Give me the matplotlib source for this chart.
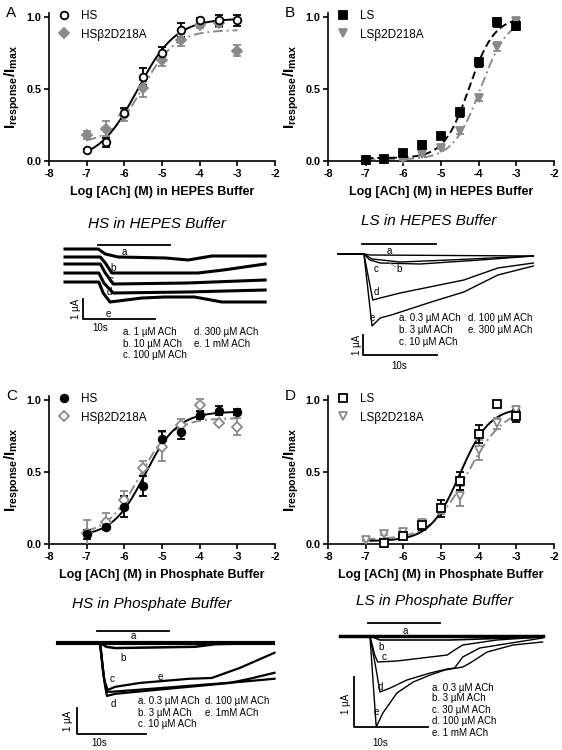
import numpy as np
import matplotlib
matplotlib.use('Agg')
import matplotlib.pyplot as plt

plt.rcParams['font.family'] = ['Liberation Sans', 'DejaVu Sans']
plt.rcParams['mathtext.fontset'] = 'custom'
plt.rcParams['mathtext.rm'] = 'Liberation Sans'
plt.rcParams['mathtext.bf'] = 'Liberation Sans:bold'
plt.rcParams['axes.unicode_minus'] = False

# ---- concentration-response data (log M) ----
conc = [-7, -6.5, -6, -5.5, -5, -4.5, -4, -3.5, -3]
conc_d_ls = [-6.5, -6, -5.5, -5, -4.5, -4, -3.5, -3]

# A: HEPES, HS
hs_hepes = [0.074, 0.13, 0.335, 0.586, 0.75, 0.91, 0.98, 0.977, 0.977]
hs_hepes_err = [0.01, 0.03, 0.03, 0.06, 0.04, 0.05, 0.01, 0.04, 0.04]
hsmut_hepes = [0.18, 0.225, 0.32, 0.505, 0.70, 0.84, 0.945, 0.96, 0.767]
hsmut_hepes_err = [0.03, 0.05, 0.04, 0.06, 0.04, 0.04, 0.02, 0.03, 0.04]
# B: HEPES, LS
ls_hepes = [0.005, 0.016, 0.056, 0.11, 0.172, 0.337, 0.686, 0.963, 0.94]
ls_hepes_err = [0.01, 0.01, 0.01, 0.03, 0.02, 0.03, 0.03, 0.03, 0.03]
lsmut_hepes = [0.005, 0.005, 0.016, 0.047, 0.09, 0.21, 0.44, 0.795, 0.97]
lsmut_hepes_err = [0.005, 0.005, 0.01, 0.01, 0.01, 0.02, 0.02, 0.03, 0.02]
# C: phosphate, HS
hs_phos = [0.067, 0.116, 0.26, 0.40, 0.727, 0.78, 0.896, 0.926, 0.919]
hs_phos_err = [0.03, 0.02, 0.07, 0.07, 0.06, 0.05, 0.03, 0.03, 0.02]
hsmut_phos = [0.074, 0.155, 0.305, 0.525, 0.676, 0.826, 0.965, 0.838, 0.815]
hsmut_phos_err = [0.09, 0.06, 0.06, 0.05, 0.10, 0.04, 0.04, 0.01, 0.06]
# D: phosphate, LS
ls_phos = [0.01, 0.055, 0.13, 0.248, 0.437, 0.764, 0.972, 0.889]
ls_phos_err = [0.01, 0.01, 0.03, 0.06, 0.06, 0.06, 0.01, 0.04]
lsmut_phos = [0.028, 0.07, 0.083, 0.145, 0.236, 0.333, 0.653, 0.838, 0.93]
lsmut_phos_err = [0.01, 0.01, 0.01, 0.02, 0.03, 0.07, 0.07, 0.04, 0.03]

# Hill fits: bottom, top, logEC50, slope
fit_hs_hepes = (0.0, 0.99, -5.65, 0.85)
fit_hsmut_hepes = (0.12, 0.91, -5.5, 1.0)
fit_ls_hepes = (0.02, 1.0, -4.25, 1.3)
fit_lsmut_hepes = (0.01, 1.0, -3.95, 1.2)
fit_hs_phos = (0.05, 0.92, -5.45, 1.0)
fit_hsmut_phos = (0.06, 0.875, -5.6, 1.0)
fit_ls_phos = (0.02, 0.95, -4.5, 1.1)
fit_lsmut_phos = (0.03, 0.95, -4.3, 0.9)

# ---- current traces (time s, current uA) ----
hsH_t = [[0, 4.6, 5.6, 7.4, 14, 17.1, 20.4, 27.8],
         [0, 4.9, 5.6, 6.5, 18.5, 22, 27.8],
         [0, 4.9, 5.6, 6.7, 17, 27.8],
         [0, 4.7, 5.4, 6.7, 17, 27.8],
         [0, 4.7, 5.3, 6.25, 10.7, 13.9, 18, 21.8, 27.8]]
hsH_i = [[0, 0, -0.25, -0.4, -0.45, -0.55, -0.35, -0.35],
         [-0.4, -0.4, -0.7, -1.2, -1.2, -1.05, -0.75],
         [-0.75, -0.75, -1.2, -1.75, -1.7, -1.55],
         [-1.2, -1.2, -1.7, -2.2, -2.15, -2.05],
         [-1.65, -1.65, -2.2, -2.65, -2.45, -2.4, -2.4, -2.65, -2.65]]
hsH_conc = ['a. 1 µM ACh', 'b. 10 µM ACh', 'c. 100 µM ACh', 'd. 300 µM ACh', 'e. 1 mM ACh']

lsH_t = [[0, 3.5, 4.3, 26.4],
         [0, 3.5, 4.6, 8.4, 15.1, 26.4],
         [0, 3.5, 4.3, 5.7, 11.1, 19.2, 26.4],
         [0, 3.5, 4.05, 4.7, 5.7, 8.4, 17.0, 21.6, 26.4],
         [0, 3.5, 4.6, 5.7, 7.2, 12.6, 17.0, 21.6, 26.4]]
lsH_i = [[0, 0, -0.05, -0.1],
         [0, 0, -0.25, -0.4, -0.3, -0.1],
         [0, 0, -0.3, -0.45, -0.5, -0.3, -0.1],
         [0, 0, -1.05, -2.3, -2.2, -1.95, -1.3, -0.7, -0.45],
         [0, 0, -3.6, -3.2, -3.05, -2.4, -1.9, -1.05, -0.6]]
lsH_conc = ['a. 0.3 µM ACh', 'b. 3 µM ACh', 'c. 10 µM ACh', 'd. 100 µM ACh', 'e. 300 µM ACh']

hsP_t = [[0, 31.2],
         [0, 6.1, 7.0, 8.3, 19.9, 22.8, 31.2],
         [0, 6.1, 6.5, 7.0, 7.8, 13.3, 20.6, 26.4, 31.4],
         [0, 6.1, 6.7, 7.1, 8.3, 14.1, 20.6, 24.9, 27.8, 31.4],
         [0, 6.1, 6.7, 7.2, 8.3, 11.9, 19.1, 22.3, 26.4, 31.4]]
hsP_i = [[0, 0],
         [0, 0, -0.15, -0.2, -0.15, -0.05, 0],
         [0, 0, -1.04, -1.88, -1.88, -1.77, -1.62, -1.5, -1.38],
         [0, 0, -1.42, -2.04, -1.96, -1.81, -1.65, -1.54, -1.38, -1.15],
         [0, 0, -1.42, -1.81, -1.69, -1.54, -1.38, -1.35, -0.96, -0.38]]
hsP_conc = ['a. 0.3 µM ACh', 'b. 3 µM ACh', 'c. 10 µM ACh', 'd. 100 µM ACh', 'e. 1mM ACh']

lsP_t = [[0, 27.4],
         [0, 4.05, 5.4, 14.9, 27.4],
         [0, 4.05, 4.7, 5.1, 7.7, 14.5, 15.5, 16.6, 21.2, 27.4],
         [0, 4.05, 4.9, 5.4, 6.8, 9.05, 12.2, 14.5, 15.5, 16.6, 18.9, 27.4],
         [0, 4.05, 4.9, 5.8, 7.7, 9.9, 12.2, 14.2, 16.6, 17.6, 19.9, 23.4, 27.4]]
lsP_i = [[0, 0],
         [0, 0, -0.08, -0.08, -0.02],
         [0, 0, -0.38, -0.52, -0.5, -0.38, -0.28, -0.18, -0.08, -0.02],
         [0, 0, -0.68, -1.12, -1.04, -0.88, -0.74, -0.66, -0.64, -0.42, -0.24, -0.04],
         [0, 0, -1.82, -1.54, -1.14, -0.92, -0.78, -0.68, -0.62, -0.54, -0.32, -0.18, -0.12]]
lsP_conc = ['a. 0.3 µM ACh', 'b. 3 µM ACh', 'c. 30 µM ACh', 'd. 100 µM ACh', 'e. 1 mM ACh']

GRAY = '#8a8a8a'
W, H = 562, 750
fig = plt.figure(figsize=(W / 100, H / 100), dpi=100)


def px_rect(x0, y0, x1, y1):
    return [x0 / W, 1 - y1 / H, (x1 - x0) / W, (y1 - y0) / H]


def hill(x, bottom, top, logec50, n):
    return bottom + (top - bottom) / (1 + 10 ** ((logec50 - x) * n))


def dose_panel(rect, letter, xlabel, series):
    ax = fig.add_axes(rect)
    xfit = np.linspace(-7, -3, 200)
    handles = []
    for x, y, e, fit, color, marker, filled, ls, label in series[::-1]:
        ax.plot(xfit, hill(xfit, *fit), color=color, ls=ls, lw=1.4, zorder=2)
        ax.errorbar(x, y, yerr=e, fmt='none', ecolor=color, elinewidth=1.3,
                    capsize=2.8, capthick=1.3, zorder=3)
        h, = ax.plot(x, y, ls='none', marker=marker, ms=5.5, mec=color, mew=1.3,
                     mfc=color if filled else 'white', label=label, zorder=4,
                     clip_on=False)
        handles.insert(0, h)
    ax.set_xlim(-8, -2)
    ax.set_ylim(0, 1.03)
    ax.set_xticks([-8, -7, -6, -5, -4, -3, -2])
    ax.set_yticks([0, 0.5, 1.0])
    ax.set_yticklabels(['0.0', '0.5', '1.0'])
    for s in ['top', 'right']:
        ax.spines[s].set_visible(False)
    for s in ['left', 'bottom']:
        ax.spines[s].set_linewidth(1.2)
    ax.tick_params(direction='out', length=3.5, width=1.2, labelsize=7.8, pad=2)
    for lab in ax.get_xticklabels() + ax.get_yticklabels():
        lab.set_fontweight('bold')
    ax.set_xlabel(xlabel, fontsize=9, fontweight='bold')
    ax.xaxis.set_label_coords(0.5, -0.17)
    ax.set_ylabel(r'$\mathbf{I_{response}/I_{max}}$', fontsize=11)
    ax.yaxis.set_label_coords(-0.12, 0.5)
    ax.legend(handles=handles, loc='upper left', bbox_to_anchor=(0.02, 1.05),
              frameon=False, fontsize=8.5, handlelength=1.0, handletextpad=0.9,
              labelspacing=0.55, borderaxespad=0)
    ax.text(-0.19, 0.995, letter, transform=ax.transAxes, fontsize=11,
            ha='left', va='center')
    return ax


def trace_panel(box, xlim, ylim, times, currs, lw, title, title_xy,
                letters, bar, scale, ua_xy, s_xy, conc_labels, conc_xy, fs=7):
    ax = fig.add_axes(px_rect(*box))
    ax.set_xlim(*xlim)
    ax.set_ylim(*ylim)
    ax.axis('off')
    for t, i, w in zip(times, currs, lw):
        ax.plot(t, i, color='black', lw=w, solid_joinstyle='round')
    ax.plot([bar[0], bar[1]], [bar[2], bar[2]], color='black', lw=1.3)
    for ch, (tx, ty) in zip('abcde', letters):
        ax.text(tx, ty, ch, fontsize=7, ha='center', va='center')
    sx, sy, dy = scale
    ax.plot([sx, sx, sx + 10], [sy + dy, sy, sy], color='black', lw=1.3)
    ax.text(ua_xy[0], ua_xy[1], '1 µA', rotation=90, fontsize=7,
            ha='center', va='center')
    ax.text(s_xy[0], s_xy[1], '10s', fontsize=7, ha='center', va='center')
    for txt, (tx, ty) in zip(conc_labels, conc_xy):
        ax.text(tx, ty, txt, fontsize=fs, ha='left', va='center')
    fig.text(title_xy[0] / W, 1 - title_xy[1] / H, title, fontsize=11,
             style='italic', ha='center', va='center')
    return ax


# ---- dose-response panels ----
dose_panel([49 / W, 1 - 161 / H, 226 / W, 148.3 / H], 'A',
           'Log [ACh] (M) in HEPES Buffer',
           [(conc, hs_hepes, hs_hepes_err, fit_hs_hepes, 'black', 'o', False, '-', 'HS'),
            (conc, hsmut_hepes, hsmut_hepes_err, fit_hsmut_hepes, GRAY, 'D', True,
             (0, (5, 2, 1, 2)), 'HSβ2D218A')])
dose_panel([328 / W, 1 - 161 / H, 226 / W, 148.3 / H], 'B',
           'Log [ACh] (M) in HEPES Buffer',
           [(conc, ls_hepes, ls_hepes_err, fit_ls_hepes, 'black', 's', True, (0, (4, 2)), 'LS'),
            (conc, lsmut_hepes, lsmut_hepes_err, fit_lsmut_hepes, GRAY, 'v', True,
             (0, (5, 2, 1, 2)), 'LSβ2D218A')])
dose_panel([49 / W, 1 - 544 / H, 226 / W, 148.3 / H], 'C',
           'Log [ACh] (M) in Phosphate Buffer',
           [(conc, hs_phos, hs_phos_err, fit_hs_phos, 'black', 'o', True, '-', 'HS'),
            (conc, hsmut_phos, hsmut_phos_err, fit_hsmut_phos, GRAY, 'D', False,
             (0, (5, 2, 1, 2)), 'HSβ2D218A')])
dose_panel([328 / W, 1 - 544 / H, 226 / W, 148.3 / H], 'D',
           'Log [ACh] (M) in Phosphate Buffer',
           [(conc_d_ls, ls_phos, ls_phos_err, fit_ls_phos, 'black', 's', False, '-', 'LS'),
            (conc, lsmut_phos, lsmut_phos_err, fit_lsmut_phos, GRAY, 'v', False,
             (0, (5, 2, 1, 2)), 'LSβ2D218A')])

# ---- trace panels ----
trace_panel((55, 236, 275, 362), (-1.39, 29.17), (-5.65, 0.65), hsH_t, hsH_i,
            [2.2] * 5, 'HS in HEPES Buffer', (157, 224),
            [(8.2, -0.15), (6.7, -0.95), (6.4, -1.55), (6.1, -2.15), (6.0, -3.25)],
            (4.6, 14.6, 0.2), (2.5, -3.5, 1.0), (1.5, -3.0), (4.9, -3.95),
            hsH_conc, [(8.05, -4.15), (8.05, -4.75), (8.05, -5.3), (17.9, -4.15), (17.9, -4.75)])

ax = trace_panel((330, 236, 545, 372), (-1.08, 27.97), (-5.9, 0.9), lsH_t, lsH_i,
                 [1.0] * 5, 'LS in HEPES Buffer', (429, 221),
                 [(6.9, 0.15), (8.25, -0.75), (5.15, -0.75), (5.15, -1.9), (4.7, -3.2)],
                 (3.24, 13.2, 0.5), (3.4, -5.05, 1.0), (2.55, -4.55), (8.25, -5.6),
                 lsH_conc, [(8.25, -3.2), (8.25, -3.8), (8.25, -4.4), (17.6, -3.2), (17.6, -3.8)])
ax.plot([7.8, 6.8], [-0.65, -0.4], color=GRAY, lw=0.6)

trace_panel((50, 620, 280, 750), (-1.16, 32.2), (-4.12, 0.88), hsP_t, hsP_i,
            [3.0, 1.8, 1.6, 1.6, 1.6], 'HS in Phosphate Buffer', (152, 604),
            [(10.9, 0.27), (9.4, -0.58), (7.8, -1.38), (8.0, -2.35), (14.8, -1.31)],
            (5.65, 16.1, 0.46), (2.75, -3.5, 1.0), (1.45, -3.0), (5.95, -3.85),
            hsP_conc, [(11.6, -2.23), (11.6, -2.69), (11.6, -3.12), (21.3, -2.23), (21.3, -2.69)])

trace_panel((330, 615, 550, 750), (-1.35, 28.4), (-2.28, 0.42), lsP_t, lsP_i,
            [2.5, 1.2, 1.0, 1.0, 1.0], 'LS in Phosphate Buffer', (434, 601),
            [(8.9, 0.1), (5.5, -0.22), (5.95, -0.42), (5.5, -1.02), (4.9, -1.52)],
            (3.8, 13.5, 0.26), (1.9, -1.82, 1.0), (0.8, -1.36), (5.5, -2.14),
            lsP_conc, [(12.4, -1.04), (12.4, -1.24), (12.4, -1.48), (12.4, -1.7), (12.4, -1.94)])

fig.savefig('out.png', dpi=100)
